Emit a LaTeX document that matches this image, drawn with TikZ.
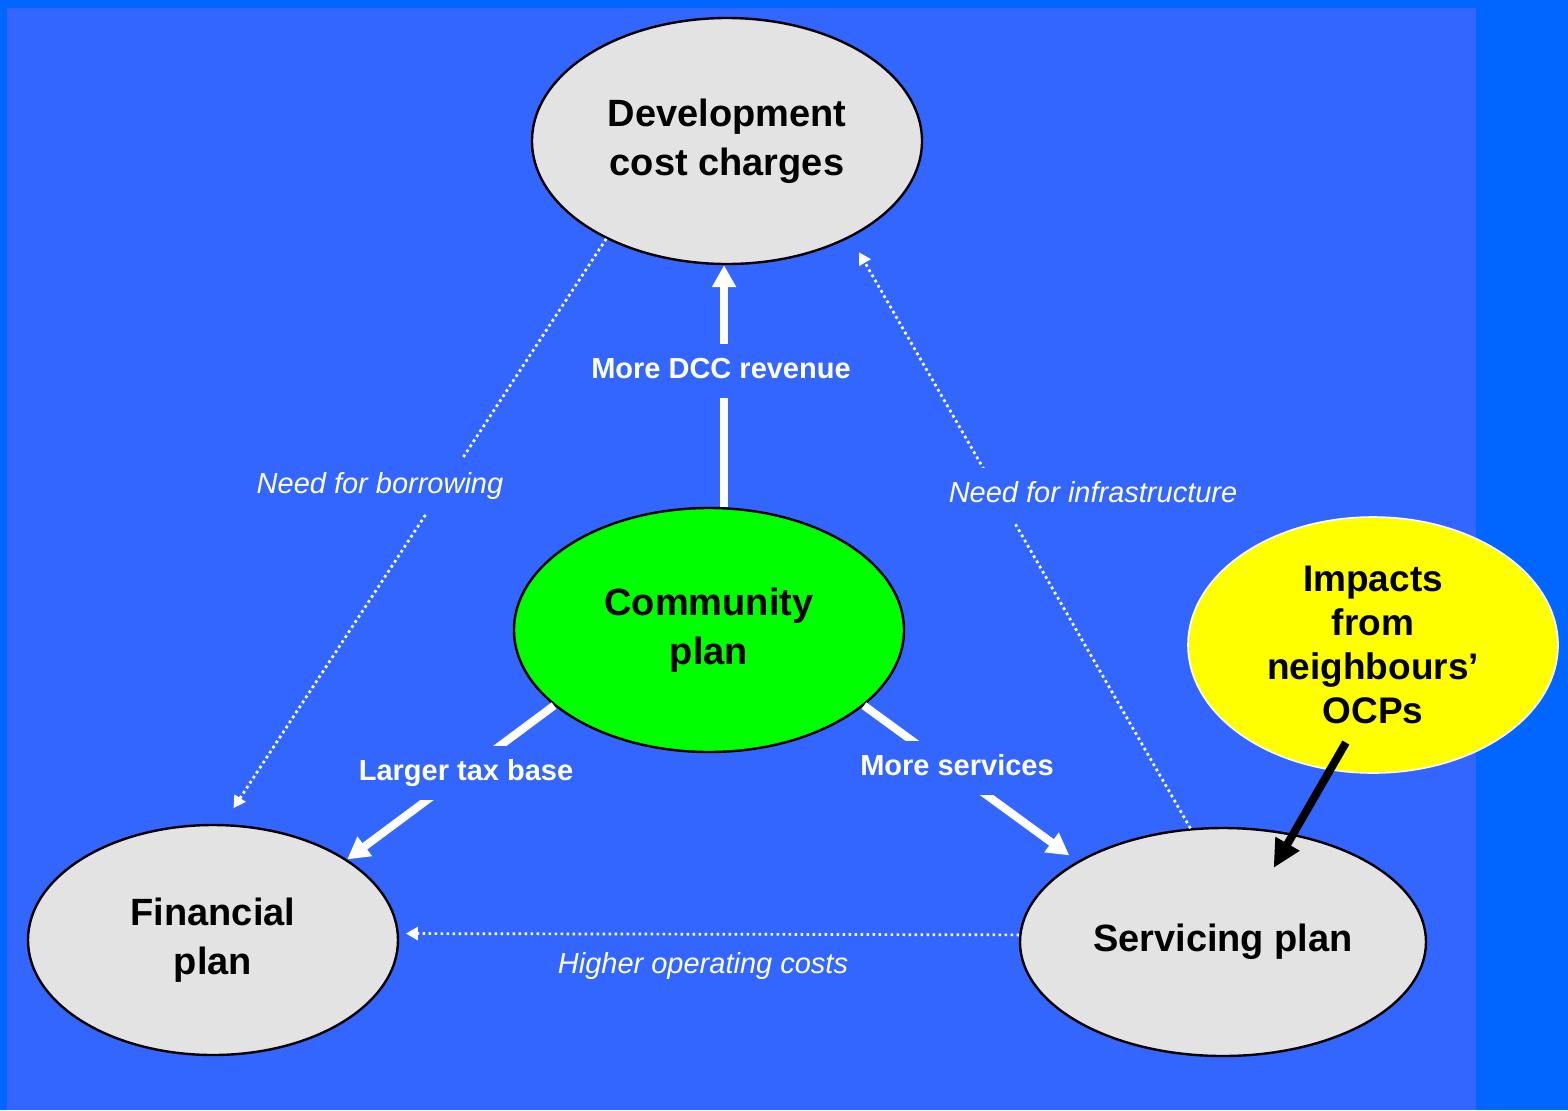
\documentclass[tikz,border=0pt]{standalone}
\usepackage{fontspec}
\setmainfont{Liberation Sans}
\usetikzlibrary{shapes.geometric,arrows.meta}
\definecolor{outerblue}{HTML}{0066FF}
\definecolor{panelblue}{HTML}{3366FF}
\definecolor{bubblegray}{HTML}{E3E3E3}
\definecolor{plangreen}{HTML}{00FF00}
\definecolor{noteyellow}{HTML}{FFFF00}
\tikzset{
  bubble/.style={ellipse, draw=black, line width=1.2pt, fill=bubblegray, inner sep=0pt,
    align=center, font=\fontsize{19}{24.5}\selectfont\bfseries},
  flow/.style={draw=white, line width=4pt, -{Triangle[width=11.5pt,length=11pt]}},
  hint/.style={draw=white, line width=1.35pt, dash pattern=on 1.35pt off 1.65pt,
    -{Triangle[width=6.5pt,length=6pt]}},
  flowlabel/.style={fill=panelblue, text=white, inner xsep=2pt, inner ysep=7pt,
    text height=10pt, text depth=3pt, font=\fontsize{14.5}{17}\selectfont\bfseries},
  hintlabel/.style={flowlabel, font=\fontsize{14.5}{17}\selectfont\itshape}
}
\begin{document}
\begin{tikzpicture}[x=0.5pt,y=-0.5pt]
    \useasboundingbox (0,0) rectangle (1568,1110);
    \fill[outerblue] (0,0) rectangle (1568,1110);
    \fill[panelblue] (7,8) rectangle (1476,1110);

    \node[bubble, minimum width=195pt, minimum height=123pt] (dcc) at (727,141) {Development\\cost charges};
    \node[bubble, fill=plangreen, minimum width=195pt, minimum height=122pt] (comm) at (709,630) {Community\\plan};
    \node[bubble, minimum width=185pt, minimum height=115pt] (fin) at (213,940) {Financial\\plan};
    \node[bubble, minimum width=203pt, minimum height=114pt] (svc) at (1223,942) {Servicing plan};
    \node[bubble, fill=noteyellow, draw=white, line width=0.8pt, minimum width=185pt, minimum height=128pt,
      font=\fontsize{18.5}{22}\selectfont\bfseries] (imp) at (1373,645) {Impacts\\from\\neighbours'\\OCPs};

    \draw[flow] (comm.83) -- (comm.83 |- dcc.south);
    \draw[flow] (comm.206) -- (fin.31);
    \draw[flow, shorten >=5pt] (comm.-26) -- (svc.151);

    \draw[hint, shorten >=9.5pt] (dcc.219) -- (fin.85);
    \draw[hint, shorten >=8.5pt] (svc.106) -- (dcc.-38);
    \draw[hint, shorten >=3.5pt] (svc.178) -- (fin.2);

    \draw[line width=4pt, -{Triangle[width=13pt,length=14pt]}, shorten <=-16pt, shorten >=-19.7pt] (imp.-109) -- (svc.57);

    \node[flowlabel] (dccrev) at (721,371) {More DCC revenue};
    \node[flowlabel] (taxbase) at (466,773) {Larger tax base};
    \node[flowlabel] (moresvc) at (957,768) {More services};
    \node[hintlabel] (borrow) at (380,486) {Need for borrowing};
    \node[hintlabel] (infra) at (1093,495) {Need for infrastructure};
    \node[hintlabel, fill=none] (opcost) at (703,966) {Higher operating costs};
\end{tikzpicture}
\end{document}
